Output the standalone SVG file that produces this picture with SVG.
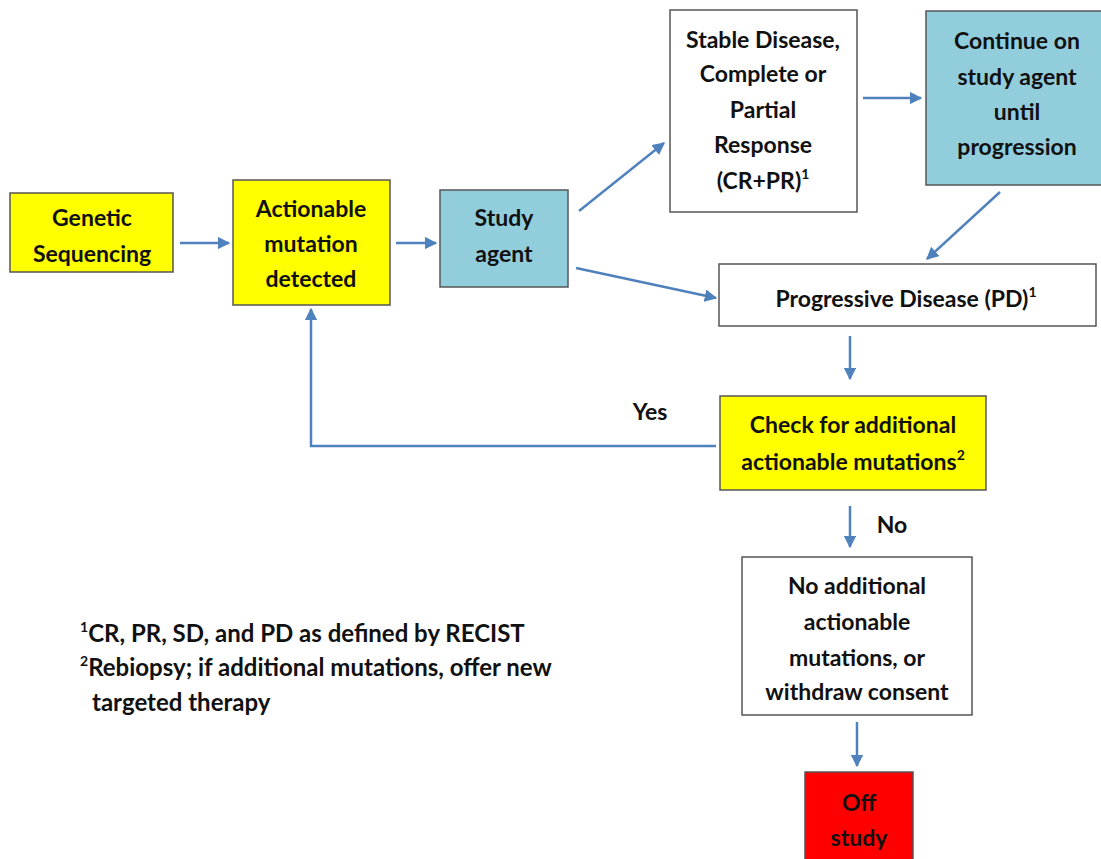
<svg xmlns="http://www.w3.org/2000/svg" width="1101" height="859" viewBox="0 0 1101 859">
<style>
.box{stroke:#555;stroke-width:1.5}
.y{fill:#FFFF00}.b{fill:#92CDDC}.w{fill:#FFFFFF}.r{fill:#FF0000}
text{font-family:Lato,"Liberation Sans",sans-serif;font-weight:bold;font-size:23px;fill:#111;text-anchor:middle}
.fn{text-anchor:start;font-size:24px}
.sup{font-size:14px}
.c{stroke:#4F81BD;stroke-width:2.5;fill:none}
</style>
<defs>
<marker id="ah" viewBox="0 0 10 10" refX="9" refY="5" markerWidth="5" markerHeight="5" orient="auto" markerUnits="strokeWidth">
<path d="M0,0 L10,5 L0,10 z" fill="#4F81BD"/>
</marker>
</defs>
<rect width="1101" height="859" fill="#fff"/>
<g id="connectors">
<line class="c" x1="180" y1="243" x2="229" y2="243" marker-end="url(#ah)"/>
<line class="c" x1="396" y1="243" x2="436" y2="243" marker-end="url(#ah)"/>
<line class="c" x1="579" y1="211" x2="664" y2="143" marker-end="url(#ah)"/>
<line class="c" x1="576" y1="268" x2="716" y2="298" marker-end="url(#ah)"/>
<line class="c" x1="863" y1="98" x2="921" y2="98" marker-end="url(#ah)"/>
<line class="c" x1="1000" y1="192" x2="927" y2="259" marker-end="url(#ah)"/>
<line class="c" x1="850" y1="336" x2="850" y2="379" marker-end="url(#ah)"/>
<polyline class="c" points="716,446 311,446 311,309" marker-end="url(#ah)"/>
<line class="c" x1="850" y1="506" x2="850" y2="547" marker-end="url(#ah)"/>
<line class="c" x1="857" y1="722" x2="857" y2="766" marker-end="url(#ah)"/>
<text x="650" y="420">Yes</text>
<text x="892" y="533">No</text>
</g>
<g id="genetic">
<rect class="box y" x="10" y="193" width="163" height="79"/>
<text x="92" y="226">Genetic</text>
<text x="92" y="262">Sequencing</text>
</g>
<g id="actionable">
<rect class="box y" x="233" y="180" width="157" height="125"/>
<text x="311" y="217">Actionable</text>
<text x="311" y="252">mutation</text>
<text x="311" y="287">detected</text>
</g>
<g id="study">
<rect class="box b" x="440" y="190" width="128" height="97"/>
<text x="504" y="226">Study</text>
<text x="504" y="262">agent</text>
</g>
<g id="stable">
<rect class="box w" x="670" y="10" width="187" height="202"/>
<text x="763" y="48">Stable Disease,</text>
<text x="763" y="82">Complete or</text>
<text x="763" y="118">Partial</text>
<text x="763" y="153">Response</text>
<text x="763" y="189">(CR+PR)<tspan class="sup" dy="-10">1</tspan></text>
</g>
<g id="continue">
<rect class="box b" x="926" y="11" width="178" height="174"/>
<text x="1017" y="49">Continue on</text>
<text x="1017" y="85">study agent</text>
<text x="1017" y="120">until</text>
<text x="1017" y="155">progression</text>
</g>
<g id="pd">
<rect class="box w" x="719" y="264" width="377" height="62"/>
<text x="906" y="307">Progressive Disease (PD)<tspan class="sup" dy="-10">1</tspan></text>
</g>
<g id="check">
<rect class="box y" x="720" y="396" width="266" height="94"/>
<text x="853" y="433">Check for additional</text>
<text x="853" y="470">actionable mutations<tspan class="sup" dy="-10">2</tspan></text>
</g>
<g id="noadd">
<rect class="box w" x="742" y="557" width="230" height="158"/>
<text x="857" y="594">No additional</text>
<text x="857" y="630">actionable</text>
<text x="857" y="666">mutations, or</text>
<text x="857" y="700">withdraw consent</text>
</g>
<g id="off">
<rect class="box r" x="805" y="772" width="108" height="95"/>
<text x="859" y="811">Off</text>
<text x="859" y="846">study</text>
</g>
<g id="footnotes">
<text class="fn" x="80" y="642"><tspan class="sup" dy="-10">1</tspan><tspan dy="10">CR, PR, SD, and PD as defined by RECIST</tspan></text>
<text class="fn" x="80" y="676"><tspan class="sup" dy="-10">2</tspan><tspan dy="10">Rebiopsy; if additional mutations, offer new</tspan></text>
<text class="fn" x="92" y="711">targeted therapy</text>
</g>
</svg>
